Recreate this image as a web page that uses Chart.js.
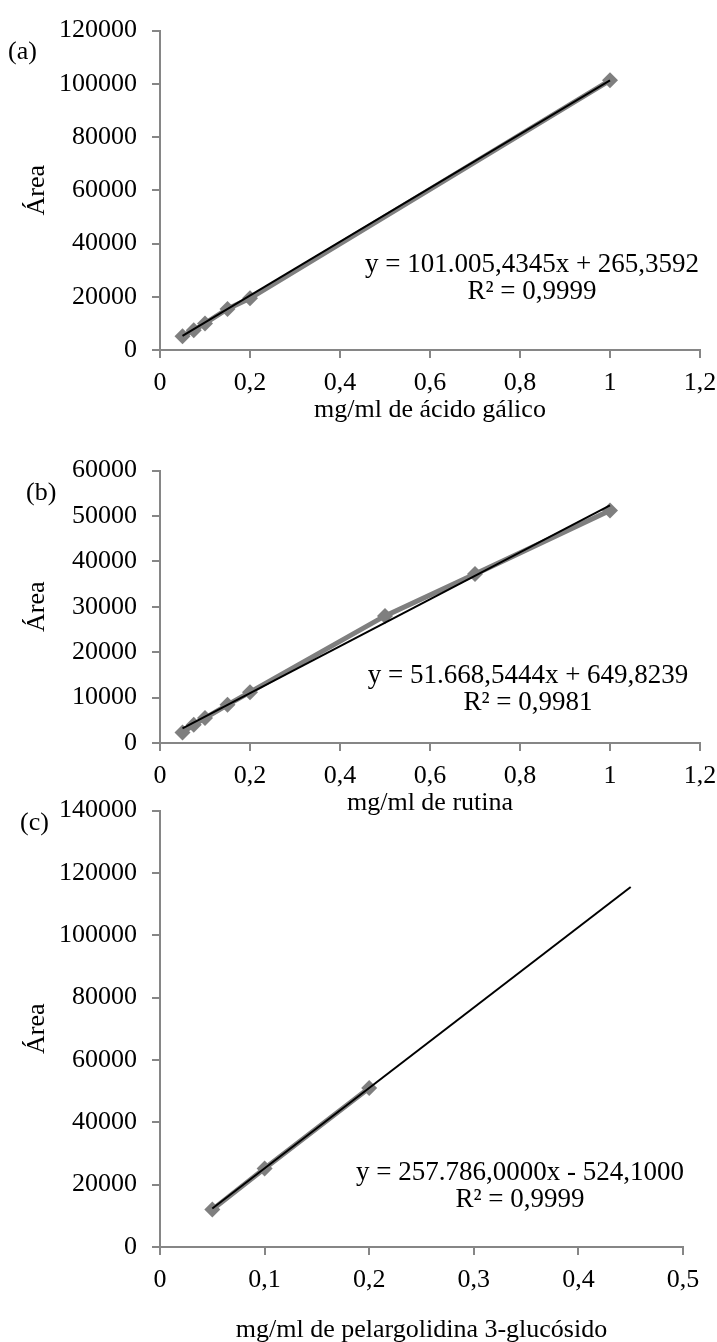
<!DOCTYPE html>
<html>
<head>
<meta charset="utf-8">
<script src="https://cdn.jsdelivr.net/npm/chart.js@4.4.1/dist/chart.umd.min.js"></script>
<style>
  html, body { margin: 0; padding: 0; background: #fff; overflow: hidden; width: 717px; height: 1342px; position: relative; }
  canvas { position: absolute; left: 0; }
</style>
</head>
<body>
<canvas id="chartA" width="740" height="440" style="top:0px"></canvas>
<canvas id="chartB" width="740" height="380" style="top:440px"></canvas>
<canvas id="chartC" width="740" height="580" style="top:780px"></canvas>
<script>
// (a) ácido gálico
const galicoX = [0.05, 0.075, 0.1, 0.15, 0.2, 1];
const galicoY = [5150, 7400, 10000, 15400, 19400, 101300];
const galicoTrendX = [0.05, 1];
const galicoTrendY = [5315, 101271];

// (b) rutina
const rutinaX = [0.05, 0.075, 0.1, 0.15, 0.2, 0.5, 0.7, 1];
const rutinaY = [2300, 4000, 5500, 8400, 11200, 28000, 37200, 51200];
const rutinaTrendX = [0.05, 1];
const rutinaTrendY = [3233, 52318];

// (c) pelargolidina 3-glucósido
const pelarX = [0.05, 0.1, 0.2];
const pelarY = [12000, 25200, 51000];
const pelarTrendX = [0.05, 0.45];
const pelarTrendY = [12365, 115479];

const FONT = '"Liberation Serif", "Times New Roman", serif';
const AXIS = '#868686';
const GRAY = '#7f7f7f';

const notesPlugin = {
  id: 'notes',
  afterDatasetsDraw(chart, args, opts) {
    const ctx = chart.ctx;
    ctx.save();
    ctx.fillStyle = '#000';
    ctx.textBaseline = 'middle';
    (opts.items || []).forEach(n => {
      ctx.font = (n.size || 27) + 'px ' + FONT;
      ctx.textAlign = n.align || 'center';
      ctx.fillText(n.text, n.x, n.y);
    });
    ctx.restore();
  }
};

function pts(xs, ys) { return xs.map((x, i) => ({x: x, y: ys[i]})); }

function makeChart(id, o) {
  const canvas = document.getElementById(id);
  const H = canvas.height, W = canvas.width;
  return new Chart(canvas.getContext('2d'), {
    type: 'scatter',
    data: {
      datasets: [
        { data: pts(o.xs, o.ys), order: 2, showLine: true, borderColor: GRAY, borderWidth: 5,
          backgroundColor: GRAY, pointStyle: 'rectRot', pointRadius: 8, pointBorderWidth: 0, clip: false },
        { data: pts(o.tx, o.ty), order: 1, showLine: true, borderColor: '#000', borderWidth: 2,
          pointRadius: 0, clip: false }
      ]
    },
    options: {
      responsive: false, animation: false,
      layout: { padding: { left: 0, top: o.top, right: W - o.right, bottom: o.titlePad } },
      plugins: { legend: { display: false }, tooltip: { enabled: false }, notes: { items: o.notes } },
      scales: {
        x: {
          type: 'linear', min: 0, max: o.xMax,
          afterFit: s => { s.height = H - o.bottom - o.titlePad; },
          border: { color: AXIS, width: 2 },
          grid: { drawOnChartArea: false, drawTicks: true, tickLength: 8, color: AXIS, lineWidth: 2 },
          ticks: { stepSize: o.xStep, color: '#000', padding: 10, font: { family: FONT, size: 26 },
                   callback: v => String(+v.toFixed(1)).replace('.', ',') },
          title: { display: true, text: o.xTitle, color: '#000', font: { family: FONT, size: 26 }, padding: 0 }
        },
        y: {
          min: 0, max: o.yMax,
          afterFit: s => { s.width = 160; },
          border: { color: AXIS, width: 2 },
          grid: { drawOnChartArea: false, drawTicks: true, tickLength: 8, color: AXIS, lineWidth: 2 },
          ticks: { stepSize: o.yStep, color: '#000', padding: 15, font: { family: FONT, size: 26 },
                   callback: v => String(v) },
          title: { display: true, text: 'Área', color: '#000', font: { family: FONT, size: 26 },
                   padding: { top: 22, bottom: 0 } }
        }
      }
    },
    plugins: [notesPlugin]
  });
}

makeChart('chartA', {
  xs: galicoX, ys: galicoY, tx: galicoTrendX, ty: galicoTrendY,
  xMax: 1.2, xStep: 0.2, yMax: 120000, yStep: 20000,
  top: 21, bottom: 350, right: 700, titlePad: 14,
  xTitle: 'mg/ml de ácido gálico',
  notes: [
    { text: '(a)', x: 8, y: 52, align: 'left', size: 26 },
    { text: 'y = 101.005,4345x + 265,3592', x: 532, y: 265 },
    { text: 'R² = 0,9999', x: 532, y: 292 }
  ]
});

makeChart('chartB', {
  xs: rutinaX, ys: rutinaY, tx: rutinaTrendX, ty: rutinaTrendY,
  xMax: 1.2, xStep: 0.2, yMax: 60000, yStep: 10000,
  top: 30, bottom: 303, right: 700, titlePad: 1,
  xTitle: 'mg/ml de rutina',
  notes: [
    { text: '(b)', x: 26, y: 53, align: 'left', size: 26 },
    { text: 'y = 51.668,5444x + 649,8239', x: 528, y: 236 },
    { text: 'R² = 0,9981', x: 528, y: 263 }
  ]
});

makeChart('chartC', {
  xs: pelarX, ys: pelarY, tx: pelarTrendX, ty: pelarTrendY,
  xMax: 0.5, xStep: 0.1, yMax: 140000, yStep: 20000,
  top: 25, bottom: 467, right: 683, titlePad: 14,
  xTitle: 'mg/ml de pelargolidina 3-glucósido',
  notes: [
    { text: '(c)', x: 20, y: 43, align: 'left', size: 26 },
    { text: 'y = 257.786,0000x - 524,1000', x: 520, y: 393 },
    { text: 'R² = 0,9999', x: 520, y: 420 }
  ]
});
</script>
</body>
</html>
